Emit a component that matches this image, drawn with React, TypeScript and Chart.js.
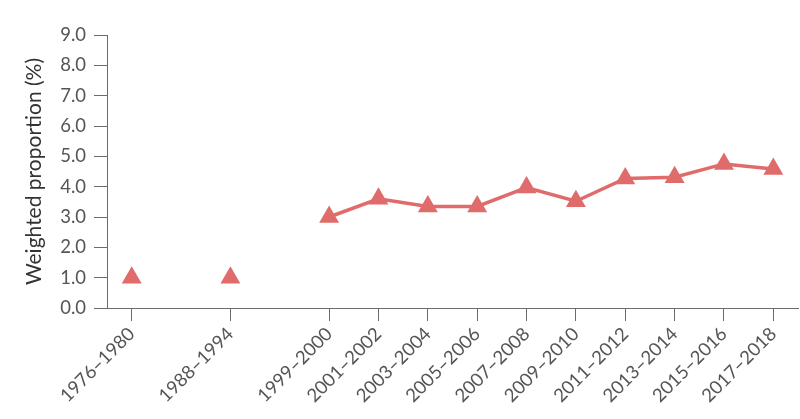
import React, { useEffect, useRef } from "react";
import { Chart, registerables } from "chart.js";

Chart.register(...registerables);

const categories: string[] = [
  "1976–1980", "", "1988–1994", "", "1999–2000", "2001–2002", "2003–2004",
  "2005–2006", "2007–2008", "2009–2010", "2011–2012", "2013–2014", "2015–2016", "2017–2018",
];
const values: (number | null)[] = [
  1.0, null, 1.0, null, 3.0, 3.6, 3.35, 3.35, 3.97, 3.52, 4.27, 4.31, 4.75, 4.58,
];
const yTickValues: number[] = [0, 1, 2, 3, 4, 5, 6, 7, 8, 9];

const RED = "#E06B6B";
const AXIS = "#6b6b6b";
const TEXT = "#555555";
const FONT = "Lato";

export default function App() {
  const ref = useRef<HTMLCanvasElement | null>(null);
  useEffect(() => {
    if (!ref.current) return;
    const chart = new Chart(ref.current, {
      type: "line",
      data: {
        labels: categories,
        datasets: [
          {
            data: values,
            borderColor: RED,
            backgroundColor: RED,
            borderWidth: 3.5,
            pointStyle: "triangle",
            pointRadius: 11.5,
            pointBorderWidth: 0,
            pointBackgroundColor: RED,
            spanGaps: false,
            tension: 0,
            clip: false,
          },
        ],
      },
      options: {
        animation: false,
        responsive: false,
        maintainAspectRatio: false,
        layout: { autoPadding: false, padding: { top: 35, right: 2, left: 22, bottom: 10 } },
        plugins: { legend: { display: false }, tooltip: { enabled: false } },
        scales: {
          x: {
            type: "category",
            offset: true,
            grid: {
              offset: false,
              drawOnChartArea: false,
              tickLength: 13,
              tickColor: (ctx: any) =>
                ctx.tick && ctx.tick.label === "" ? "rgba(0,0,0,0)" : AXIS,
            },
            border: { color: AXIS, width: 1 },
            ticks: {
              autoSkip: false,
              maxRotation: 45,
              minRotation: 45,
              color: TEXT,
              padding: 2,
              font: { family: FONT, size: 18.5 },
            },
          },
          y: {
            min: 0,
            max: 9,
            afterBuildTicks: (axis: any) => {
              axis.ticks = yTickValues.map((v) => ({ value: v }));
            },
            grid: { drawOnChartArea: false, tickLength: 13, tickColor: AXIS },
            border: { color: AXIS, width: 1 },
            ticks: {
              color: TEXT,
              padding: 8,
              font: { family: FONT, size: 18.5 },
              callback: (v: any) => Number(v).toFixed(1),
            },
            title: {
              display: true,
              text: "Weighted proportion (%)",
              color: "#333333",
              font: { family: FONT, size: 21 },
              padding: { top: 0, bottom: 5 },
            },
          },
        },
      },
    });
    return () => chart.destroy();
  }, []);
  return (
    <div style={{ position: "fixed", left: 0, top: 0, width: 800, height: 419, background: "#fff" }}>
      <canvas ref={ref} width={800} height={419} style={{ width: 800, height: 419 }} />
    </div>
  );
}
